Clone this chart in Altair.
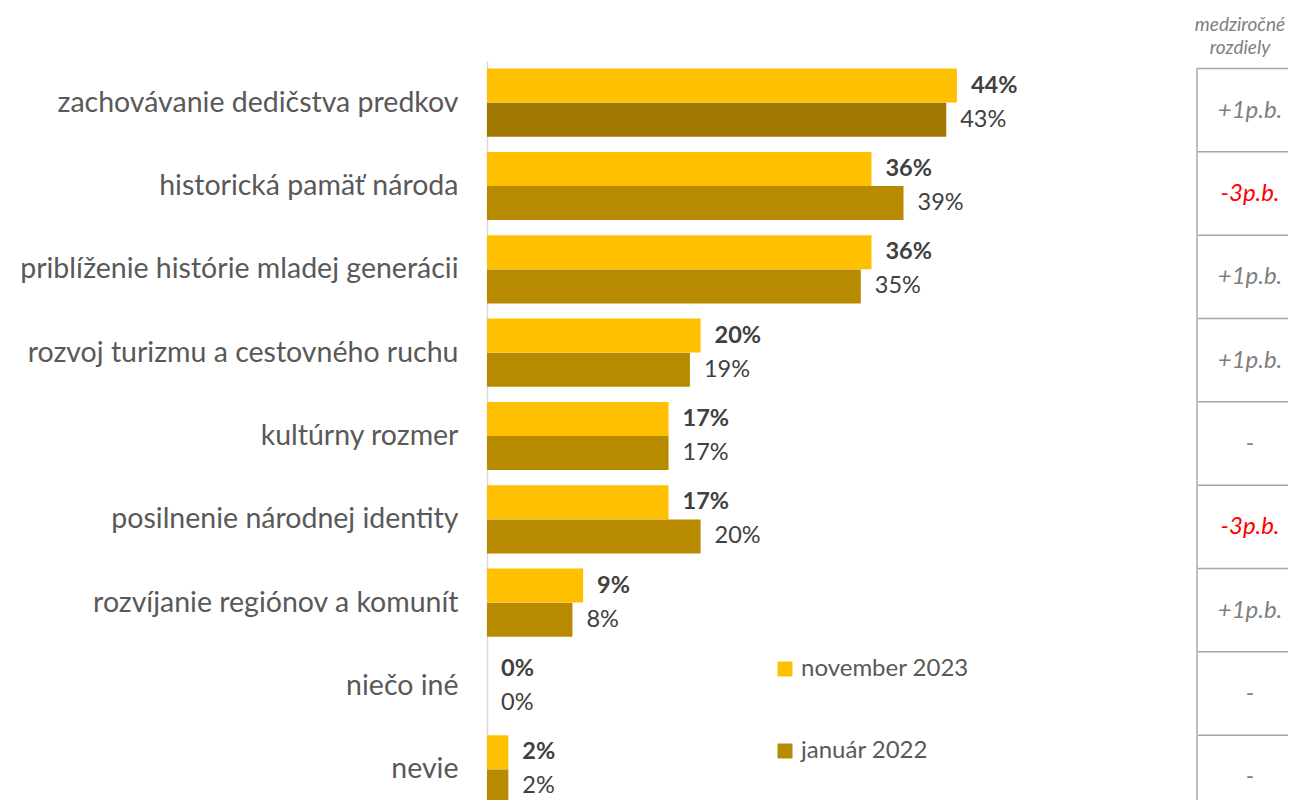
import altair as alt
import pandas as pd

categories = [
    "zachovávanie dedičstva predkov",
    "historická pamäť národa",
    "priblíženie histórie mladej generácii",
    "rozvoj turizmu a cestovného ruchu",
    "kultúrny rozmer",
    "posilnenie národnej identity",
    "rozvíjanie regiónov a komunít",
    "niečo iné",
    "nevie",
]
series_names = ["november 2023", "január 2022"]
nov_2023 = [44, 36, 36, 20, 17, 17, 9, 0, 2]
jan_2022 = [43, 39, 35, 19, 17, 20, 8, 0, 2]
diffs = ["+1p.b.", "-3p.b.", "+1p.b.", "+1p.b.", "-", "-3p.b.", "+1p.b.", "-", "-"]
header_text = "medziročné\nrozdiely"

FONT = "Lato"
rows = []
for c, a, b in zip(categories, nov_2023, jan_2022):
    rows.append({"category": c, "series": series_names[0], "value": a, "label": f"{a}%"})
    rows.append({"category": c, "series": series_names[1], "value": b, "label": f"{b}%"})
df = pd.DataFrame(rows)
tdf = pd.DataFrame({"category": categories, "diff": diffs})
hdf = pd.DataFrame({"h": [header_text]})

W, H = 801, 739
yscale = alt.Scale(domain=categories, range=[0, 750], paddingInner=0.18, paddingOuter=0.09)
xscale = alt.Scale(domain=[0, 75])

y_enc = alt.Y("category:N", scale=yscale, sort=categories,
              axis=alt.Axis(title=None, ticks=False, labelFontSize=28.5, labelColor="#595959",
                            labelPadding=29, labelFont=FONT, labelLimit=600,
                            domainColor="#d9d9d9", domainWidth=1.5))
yoff = alt.YOffset("series:N", sort=series_names, scale=alt.Scale(domain=series_names, paddingInner=0, paddingOuter=0))
x_enc = alt.X("value:Q", scale=xscale, axis=None)

base = alt.Chart(df)
bars = base.mark_bar(size=34).encode(
    y=y_enc, yOffset=yoff, x=x_enc,
    color=alt.condition(
        f"datum.category == '{categories[0]}' && datum.series == '{series_names[1]}'",
        alt.value("#A07800"),
        alt.Color("series:N", sort=series_names,
                  scale=alt.Scale(domain=series_names, range=["#FFC000", "#B88A00"]),
                  legend=alt.Legend(orient="none", legendX=286, legendY=596, title=None,
                                    symbolType="square", symbolSize=225, symbolStrokeWidth=0,
                                    labelFontSize=24, labelColor="#595959", labelFont=FONT,
                                    labelLimit=400, rowPadding=58, labelOffset=4)),
    ),
)
lab_nov = base.transform_filter(alt.datum.series == series_names[0]).mark_text(
    align="left", baseline="middle", dx=14, fontSize=23.5, fontWeight="bold", color="#404040", font=FONT
).encode(y=alt.Y("category:N", scale=yscale, sort=categories), yOffset=yoff, x=x_enc, text="label:N")
lab_jan = base.transform_filter(alt.datum.series == series_names[1]).mark_text(
    align="left", baseline="middle", dx=14, fontSize=23.5, color="#404040", font=FONT
).encode(y=alt.Y("category:N", scale=yscale, sort=categories), yOffset=yoff, x=x_enc, text="label:N")

tbase = alt.Chart(tdf)
hlines = tbase.mark_rule(color="#a6a6a6", strokeWidth=1.5).encode(
    y=alt.Y("category:N", scale=yscale, sort=categories, bandPosition=0),
    x=alt.value(710), x2=alt.value(W),
)
vline = tbase.mark_rule(color="#bfbfbf", strokeWidth=2).encode(
    x=alt.value(710), y=alt.value(7.5), y2=alt.value(750)
)
ttext = tbase.mark_text(align="center", baseline="middle", dy=8, fontSize=24, fontStyle="italic", font=FONT).encode(
    y=alt.Y("category:N", scale=yscale, sort=categories),
    x=alt.value(763),
    text="diff:N",
    color=alt.condition("indexof(datum.diff, '-') == 0 && length(datum.diff) > 1", alt.value("#FF0000"), alt.value("#7f7f7f")),
)
header = alt.Chart(hdf).mark_text(align="center", baseline="middle", fontSize=19, fontStyle="italic",
                                   color="#7f7f7f", font=FONT, lineBreak="\n", lineHeight=23).encode(
    x=alt.value(753), y=alt.value(-36), text="h:N"
)

chart = alt.layer(bars, lab_nov, lab_jan, hlines, vline, ttext, header).properties(
    width=W, height=H,
    autosize=alt.AutoSizeParams(type="none"),
    padding={"left": 479, "top": 53, "right": 0, "bottom": 0},
).configure(background="white", view=alt.ViewConfig(stroke=None))

chart.save("out.html", embed_options={"renderer": "svg", "actions": False})
